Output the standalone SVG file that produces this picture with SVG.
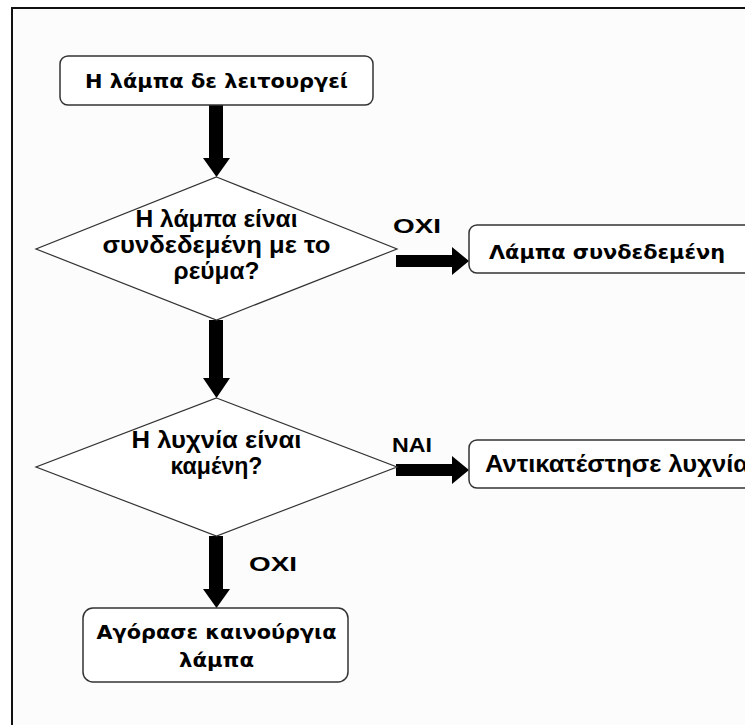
<svg xmlns="http://www.w3.org/2000/svg" width="745" height="725" viewBox="0 0 745 725">
  <style>
    .box { fill: #ffffff; stroke: #333; stroke-width: 1.5; }
    .dia { fill: #ffffff; stroke: #333; stroke-width: 1.2; }
    .arrow { fill: #000; }
    .bt { font-family: "DejaVu Sans", "Liberation Sans", sans-serif; font-weight: bold; font-size: 20px; fill: #000; text-anchor: middle; }
    .dt { font-family: "Liberation Sans", "Arial", sans-serif; font-weight: bold; font-size: 23px; fill: #000; text-anchor: middle; }
    .lbl { font-family: "Liberation Sans", "Arial", sans-serif; font-weight: bold; font-size: 21px; fill: #000; }
  </style>

  <rect x="0" y="0" width="745" height="725" fill="#ffffff"/>
  <!-- page frame, open on the right and bottom -->
  <rect x="13" y="9" width="733" height="717" fill="#fcfcfc"/>
  <path d="M12,726 L12,8 L746,8" fill="none" stroke="#111" stroke-width="2"/>

  <g id="connectors">
    <!-- start -> decision 1 -->
    <polygon class="arrow" points="209,105 223,105 223,158 230,158 216.5,177 203,158 209,158"/>
    <!-- decision 1 -> decision 2 -->
    <polygon class="arrow" points="209,320 223,320 223,378 230,378 216.5,398 203,378 209,378"/>
    <!-- decision 2 -> buy new lamp -->
    <polygon class="arrow" points="209,536 223,536 223,589 230,589 216.5,608 203,589 209,589"/>
    <!-- decision 1 -> lamp connected -->
    <polygon class="arrow" points="396,255 452,255 452,247 469,261 452,275 452,267 396,267"/>
    <!-- decision 2 -> replace bulb -->
    <polygon class="arrow" points="396,464 452,464 452,456 469,470 452,484 452,476 396,476"/>
    <text class="lbl" x="393" y="233" textLength="48" lengthAdjust="spacingAndGlyphs">OXI</text>
    <text class="lbl" x="392" y="452" textLength="40" lengthAdjust="spacingAndGlyphs">NAI</text>
    <text class="lbl" x="249" y="571" textLength="48" lengthAdjust="spacingAndGlyphs">OXI</text>
  </g>

  <g id="start">
    <rect class="box" x="60" y="56" width="313" height="49" rx="8"/>
    <text class="bt" x="216.5" y="88" textLength="263" lengthAdjust="spacingAndGlyphs">Η λάμπα δε λειτουργεί</text>
  </g>

  <g id="decision-power">
    <polygon class="dia" points="216.5,177 397,249 216.5,320 36,249"/>
    <text class="dt" x="216.5" y="227" textLength="162" lengthAdjust="spacingAndGlyphs">Η λάμπα είναι</text>
    <text class="dt" x="216.5" y="253" textLength="228" lengthAdjust="spacingAndGlyphs">συνδεδεμένη με το</text>
    <text class="dt" x="216.5" y="279" textLength="86" lengthAdjust="spacingAndGlyphs">ρεύμα?</text>
  </g>

  <g id="lamp-connected">
    <rect class="box" x="469" y="225" width="300" height="48" rx="8"/>
    <text class="bt" x="489" y="259" style="text-anchor:start" textLength="236" lengthAdjust="spacingAndGlyphs">Λάμπα συνδεδεμένη</text>
  </g>

  <g id="decision-bulb">
    <polygon class="dia" points="216.5,398 397,467 216.5,536 36,467"/>
    <text class="dt" x="216.5" y="448" textLength="170" lengthAdjust="spacingAndGlyphs">Η λυχνία είναι</text>
    <text class="dt" x="216.5" y="474" textLength="92" lengthAdjust="spacingAndGlyphs">καμένη?</text>
  </g>

  <g id="replace-bulb">
    <rect class="box" x="469" y="440" width="300" height="48" rx="8"/>
    <text class="dt" x="485" y="472" style="text-anchor:start" textLength="264" lengthAdjust="spacingAndGlyphs">Αντικατέστησε λυχνία</text>
  </g>

  <g id="buy-new-lamp">
    <rect class="box" x="83" y="608" width="265" height="74" rx="10"/>
    <text class="bt" x="216.5" y="639" textLength="240" lengthAdjust="spacingAndGlyphs">Αγόρασε καινούργια</text>
    <text class="bt" x="216.5" y="667" textLength="75" lengthAdjust="spacingAndGlyphs">λάμπα</text>
  </g>
</svg>
